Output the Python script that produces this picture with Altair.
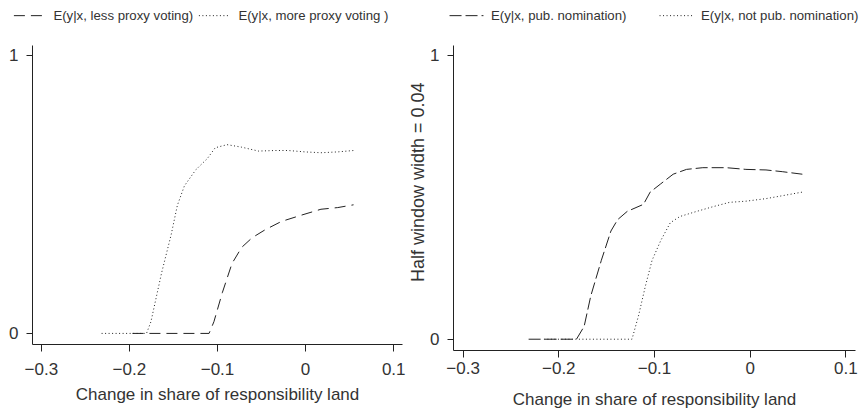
import altair as alt
import pandas as pd

# ---- data ----
left_names = ["E(y|x, less proxy voting)", "E(y|x, more proxy voting )"]
left_x_less = [-0.196, -0.109, -0.1035, -0.094, -0.083, -0.072, -0.060, -0.045,
               -0.027, -0.004, 0.018, 0.037, 0.055]
left_y_less = [0, 0, 0.042, 0.146, 0.251, 0.309, 0.344, 0.373, 0.402, 0.425,
               0.446, 0.452, 0.462]
left_x_more = [-0.231, -0.180, -0.175, -0.163, -0.152, -0.145, -0.137, -0.124,
               -0.111, -0.102, -0.0885, -0.072, -0.053, -0.034, -0.019, 0.0,
               0.018, 0.037, 0.055]
left_y_more = [0, 0, 0.042, 0.216, 0.355, 0.46, 0.53, 0.588, 0.628, 0.667,
               0.678, 0.669, 0.655, 0.657, 0.657, 0.652, 0.649, 0.652, 0.657]

right_names = ["E(y|x, pub. nomination)", "E(y|x, not pub. nomination)"]
right_x_pub = [-0.231, -0.181, -0.173, -0.166, -0.155, -0.145, -0.138, -0.128,
               -0.111, -0.104, -0.093, -0.080, -0.066, -0.049, -0.0245, -0.004,
               0.017, 0.034, 0.055]
right_y_pub = [0, 0, 0.045, 0.153, 0.278, 0.381, 0.421, 0.45, 0.475, 0.518,
               0.547, 0.581, 0.598, 0.604, 0.604, 0.598, 0.596, 0.590, 0.581]
right_x_notpub = [-0.215, -0.123, -0.116, -0.109, -0.102, -0.093, -0.083, -0.073,
                  -0.0555, -0.038, -0.021, -0.004, 0.017, 0.032, 0.055]
right_y_notpub = [0, 0, 0.085, 0.187, 0.278, 0.347, 0.41, 0.432, 0.45, 0.467,
                  0.482, 0.486, 0.495, 0.504, 0.518]

x_ticks = [-0.3, -0.2, -0.1, 0, 0.1]
y_ticks = [0, 1]
x_title = "Change in share of responsibility land"
y_title_right = "Half window width = 0.04"

FONT = "Liberation Sans"
INK = "#222222"
TXT = "#333333"


def frame(xs, ys, name):
    return pd.DataFrame({"x": xs, "y": ys, "series": name})


left_df = pd.concat([frame(left_x_less, left_y_less, left_names[0]),
                     frame(left_x_more, left_y_more, left_names[1])])
right_df = pd.concat([frame(right_x_pub, right_y_pub, right_names[0]),
                      frame(right_x_notpub, right_y_notpub, right_names[1])])


def panel(df, names, dashes, width, height, legend, xaxis, yaxis):
    return alt.Chart(df).mark_line(color=INK, strokeWidth=1).encode(
        x=alt.X("x:Q", scale=alt.Scale(domain=[-0.31, 0.11], nice=False, zero=False),
                axis=xaxis),
        y=alt.Y("y:Q", scale=alt.Scale(domain=[-0.038, 1.036], nice=False),
                axis=yaxis),
        strokeDash=alt.StrokeDash("series:N",
                                  scale=alt.Scale(domain=names, range=dashes),
                                  legend=legend),
        detail="series:N",
    ).properties(width=width, height=height)


common_axis = dict(labelFont=FONT, titleFont=FONT, labelFontSize=17, titleFontSize=17,
                   labelColor=TXT, titleColor=TXT, titleFontWeight="normal",
                   domainColor=INK, tickColor=INK, grid=False)

left = panel(
    left_df, left_names, [[11, 6], [1, 2.5]], 370, 299,
    alt.Legend(orient="none", legendX=-18.6, legendY=-45, direction="horizontal",
               title=None, symbolType="stroke", symbolSize=900,
               symbolStrokeWidth=1, symbolStrokeColor=INK, labelFont=FONT,
               labelFontSize=13.2, labelColor=TXT, labelOffset=9,
               columnPadding=3, labelLimit=400),
    alt.Axis(values=x_ticks, format="~g", title=x_title, tickSize=7,
             labelPadding=10.9, titlePadding=8.5, **common_axis),
    alt.Axis(values=y_ticks, format="~g", title=None, tickSize=6,
             labelPadding=8, **common_axis),
)

right_yaxis = dict(common_axis)
right_yaxis["titleFontSize"] = 18

right = panel(
    right_df, right_names, [[12, 4], [1, 2.5]], 402, 305,
    alt.Legend(orient="none", legendX=-4, legendY=-47, direction="horizontal",
               title=None, symbolType="stroke", symbolSize=1150,
               symbolStrokeWidth=1, symbolStrokeColor=INK, labelFont=FONT,
               labelFontSize=13.2, labelColor=TXT, labelOffset=7,
               columnPadding=30, labelLimit=400),
    alt.Axis(values=x_ticks, format="~g", title=x_title, tickSize=7,
             labelPadding=3.6, titlePadding=14.8, **common_axis),
    alt.Axis(values=y_ticks, format="~g", title=y_title_right, tickSize=6,
             labelPadding=8, titleX=-29.4, titleY=136.8, titleAngle=270,
             titleAlign="center", titleBaseline="alphabetic", **right_yaxis),
)

chart = alt.hconcat(left, right, spacing=51, bounds="flush").resolve_scale(
    strokeDash="independent", x="independent", y="independent"
).properties(
    padding={"left": 0, "top": -10, "right": 0, "bottom": 0},
    background="white",
).configure_view(stroke=None)

chart.save("out.html", embed_options={"renderer": "svg", "actions": False})
